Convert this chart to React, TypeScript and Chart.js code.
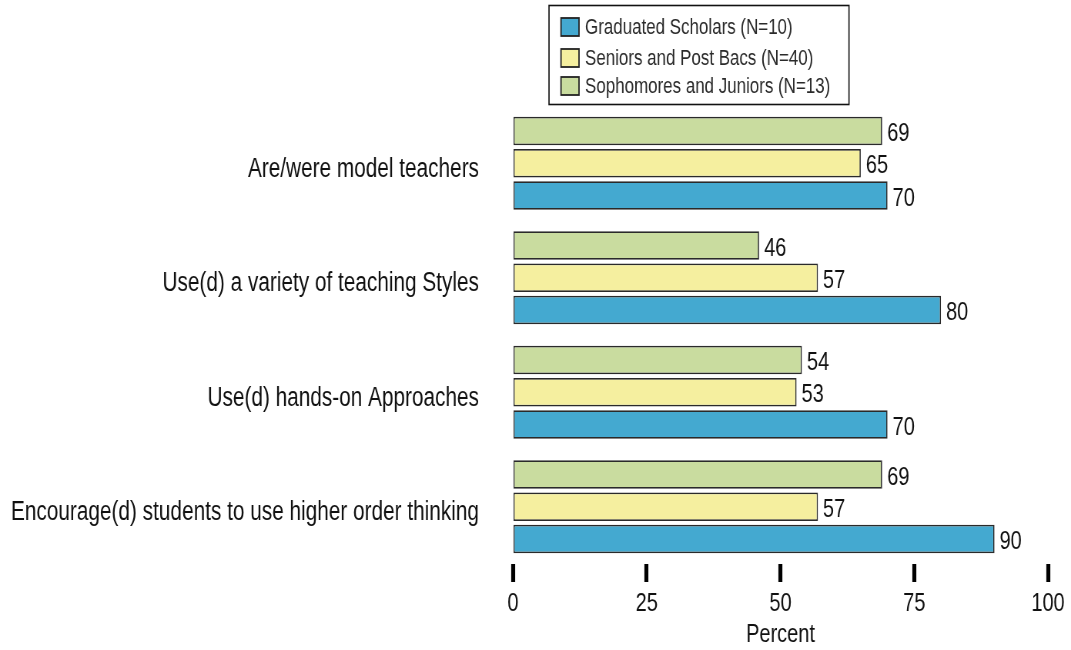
import React, { useEffect, useRef } from "react";
import { Chart, registerables } from "chart.js";

Chart.register(...registerables);

const categories = [
  "Are/were model teachers",
  "Use(d) a variety of teaching Styles",
  "Use(d) hands-on Approaches",
  "Encourage(d) students to use higher order thinking",
];
const sophomoresJuniors = [69, 46, 54, 69];
const seniorsPostBacs = [65, 57, 53, 57];
const graduatedScholars = [70, 80, 70, 90];
const seriesLabels = [
  "Sophomores and Juniors (N=13)",
  "Seniors and Post Bacs (N=40)",
  "Graduated Scholars (N=10)",
];
const seriesColors = ["#c9dc9f", "#f5ef9f", "#44a9d0"];
const xTicks = [0, 25, 50, 75, 100];

// The reference uses a narrow typeface; the canvas is drawn wider and
// displayed compressed horizontally to reproduce that look.
const W = 1071;
const H = 650;
const CW = 1391;
const K = W / CW;
const FONT = "'Liberation Sans', Arial, sans-serif";

const valueLabels = {
  id: "valueLabels",
  afterDatasetsDraw(chart: any) {
    const ctx = chart.ctx;
    ctx.save();
    ctx.font = `26px ${FONT}`;
    ctx.fillStyle = "#111";
    ctx.textAlign = "left";
    ctx.textBaseline = "middle";
    chart.data.datasets.forEach((ds: any, i: number) => {
      const meta = chart.getDatasetMeta(i);
      meta.data.forEach((bar: any, j: number) => {
        ctx.fillText(String(ds.data[j]), bar.x + 5 / K, bar.y + 3);
      });
    });
    ctx.restore();
  },
};

const boxLegend = {
  id: "boxLegend",
  afterDraw(chart: any) {
    const ctx = chart.ctx;
    ctx.save();
    const x0 = 549 / K, y0 = 5, w = 300 / K, h = 99;
    ctx.strokeStyle = "#111";
    ctx.lineWidth = 1.6;
    ctx.strokeRect(x0, y0 + 0.5, w, h);
    ctx.font = `22px ${FONT}`;
    ctx.textAlign = "left";
    ctx.textBaseline = "middle";
    const order = [2, 1, 0];
    const rows = [27, 58, 86];
    order.forEach((di, k) => {
      const ds = chart.data.datasets[di];
      const cy = rows[k];
      ctx.fillStyle = ds.backgroundColor;
      ctx.fillRect(561 / K, cy - 9, 18 / K, 18);
      ctx.lineWidth = 1.8;
      ctx.strokeStyle = "#222";
      ctx.strokeRect(561 / K, cy - 9, 18 / K, 18);
      ctx.fillStyle = "#2a2a2a";
      ctx.fillText(ds.label, 585 / K, cy + 1);
    });
    ctx.restore();
  },
};

export default function App() {
  const ref = useRef<HTMLCanvasElement | null>(null);
  useEffect(() => {
    if (!ref.current) return;
    const datasets = [sophomoresJuniors, seniorsPostBacs, graduatedScholars].map((d, i) => ({
      label: seriesLabels[i],
      data: d,
      backgroundColor: seriesColors[i],
      borderColor: "#2a2a2a",
      borderWidth: 1.7,
      borderSkipped: false,
      barPercentage: 0.884,
      categoryPercentage: 0.846,
    }));
    const chart = new Chart(ref.current, {
      type: "bar",
      data: { labels: categories, datasets },
      options: {
        animation: false,
        responsive: false,
        devicePixelRatio: 1,
        indexAxis: "y",
        layout: { padding: { top: 106, right: 23 / K, left: 0, bottom: 0 } },
        plugins: { legend: { display: false }, tooltip: { enabled: false } },
        scales: {
          x: {
            type: "linear",
            min: 0,
            max: 100,
            afterBuildTicks: (scale: any) => {
              scale.ticks = xTicks.map((v) => ({ value: v }));
            },
            grid: {
              display: true,
              drawOnChartArea: false,
              drawTicks: true,
              tickLength: 18,
              tickWidth: 4 / K,
              tickColor: "#000",
            },
            border: { display: false },
            ticks: { font: { family: FONT, size: 26 }, color: "#111", padding: 6 },
            title: {
              display: true,
              text: "Percent",
              font: { family: FONT, size: 26 },
              color: "#111",
              padding: { top: 0, bottom: 0 },
            },
            afterFit: (scale: any) => {
              scale.height = 86;
            },
          },
          y: {
            type: "category",
            grid: { display: false, drawTicks: false },
            border: { display: false },
            ticks: { font: { family: FONT, size: 27 }, color: "#111", padding: 34 / K, labelOffset: 6 },
            afterFit: (scale: any) => {
              scale.width = 513 / K;
            },
          },
        },
      },
      plugins: [valueLabels, boxLegend],
    });
    return () => chart.destroy();
  }, []);
  return (
    <div style={{ position: "fixed", left: 0, top: 0, width: W, height: H, background: "#fff" }}>
      <canvas ref={ref} width={CW} height={H} style={{ width: W, height: H, display: "block" }} />
    </div>
  );
}
